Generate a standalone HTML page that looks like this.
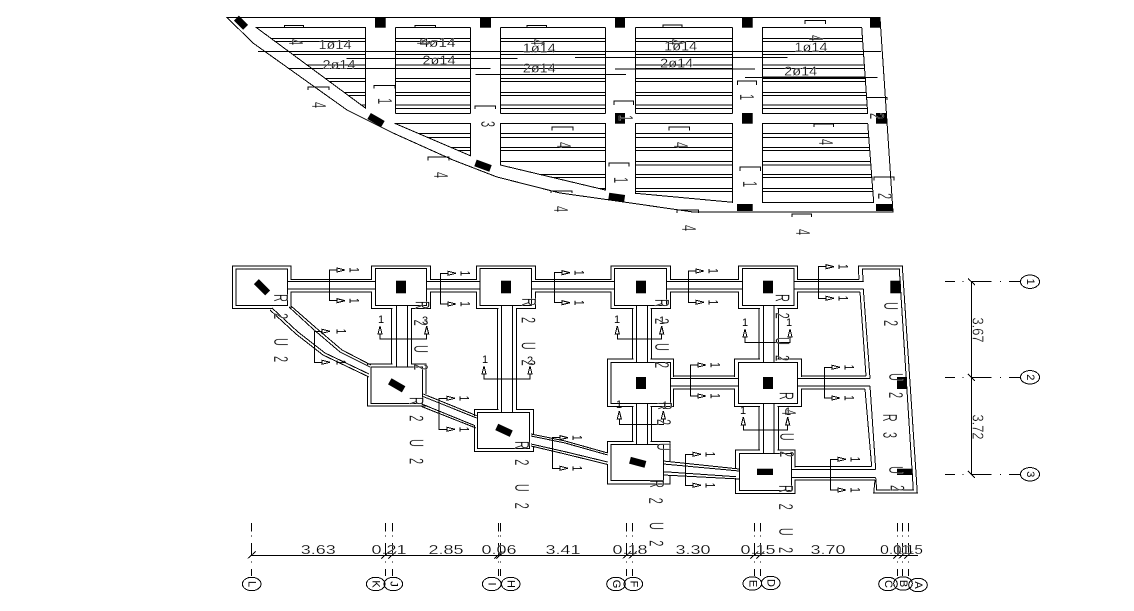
<!DOCTYPE html>
<html lang="en">
<head>
<meta charset="utf-8">
<title>Foundation and slab plan</title>
<style>
html,body{margin:0;padding:0;background:#fff;width:1134px;height:611px;overflow:hidden}
svg{display:block}
.l{fill:none;stroke:#000;stroke-width:1;shape-rendering:crispEdges}
.s{vector-effect:non-scaling-stroke}
.b{fill:#000;stroke:none}
.w{fill:#fff;stroke:#000;stroke-width:1;shape-rendering:crispEdges}
.m{fill:#fff;stroke:none;shape-rendering:crispEdges}
text{font-family:"Liberation Sans",sans-serif;fill:#000;text-anchor:middle;dominant-baseline:central}
.big{font-size:20px;stroke:#fff;stroke-width:.35px}
.sm{font-size:14px}
.n{font-size:11px}
.d{font-size:12.5px;stroke:#fff;stroke-width:.2px}
.dv{font-size:16px;stroke:#fff;stroke-width:.3px}
</style>
</head>
<body>
<svg width="1134" height="611" viewBox="0 0 1134 611" xmlns="http://www.w3.org/2000/svg">
<defs>
<path id="r1" class="l s" d="M0 38.3H1M0 41.7H1M0 54.3H1M0 65H1M0 68.3H1M0 78.3H1M0 81.7H1M0 92.3H1M0 95.7H1M0 105H1M0 108.3H1M0 113.3H1M0 27.3H1M0 27.3V113.3M1 27.3V113.3"/>
</defs>

<!-- TOP SLAB -->
<path class="l" d="M227 17.5H880L893 212H693L610 200L560 193L497 177L453 160L393 133L347 110L253 43Z"/>
<path class="l" d="M256 27.3H365.7V108.3ZM271 38.3H365.7M275.6 41.7H365.7M292.7 54.3H365.7M307 65H365.7M311.7 68.3H365.7M325 78.3H365.7M330 81.7H365.7M344 92.3H365.7M349 95.7H365.7M361.5 105H365.7"/>
<use href="#r1" transform="translate(395.7 0) scale(74.6 1)"/>
<use href="#r1" transform="translate(500.3 0) scale(105 1)"/>
<use href="#r1" transform="translate(635.7 0) scale(97 1)"/>
<path class="l" d="M762.7 27.3H861.7L867.7 113.3H762.7ZM762.7 38.3H862.5M762.7 41.7H862.7M762.7 54.3H863.6M762.7 65H864.3M762.7 68.3H864.6M762.7 78.3H865.3M762.7 81.7H865.5M762.7 92.3H866.2M762.7 95.7H866.5M762.7 105H867.1M762.7 108.3H867.4"/>
<path class="l" d="M394.7 123.3H470.3V155.7ZM418 133.3H470.3M427 137.3H470.3M451 147.3H470.3M458.6 150.7H470.3"/>
<path class="l" d="M500.3 123.3H605.3V190L500.3 165ZM500.3 133.3H605.3M500.3 137.3H605.3M500.3 147.3H605.3M500.3 150.7H605.3M500.3 161.7H605.3M539 174.3H605.3M553.6 177.7H605.3M598 188.3H605.3"/>
<path class="l" d="M635.7 123.3H732.7V202.3L635.7 193.3ZM635.7 133.3H732.7M635.7 137.3H732.7M635.7 147.3H732.7M635.7 150.7H732.7M635.7 161.7H732.7M635.7 165H732.7M635.7 174.3H732.7M635.7 177.7H732.7M635.7 188.3H732.7M635.7 191.7H732.7"/>
<path class="l" d="M762.7 123.3H867.7L873.7 202.3H762.7ZM762.7 133.3H868.5M762.7 137.3H868.8M762.7 147.3H869.5M762.7 150.7H869.8M762.7 161.7H870.6M762.7 165H870.9M762.7 174.3H871.5M762.7 177.7H871.8M762.7 188.3H872.6M762.7 191.7H872.9"/>
<!-- long bars -->
<path class="l" d="M258 51.3H881M346.7 58.3H517.7M575 57.3H787.7M288 68.3H389M372 68.3H490.7M475.7 74.3H626M615 69H755M745 77.7H877.7M635.7 68.8H732.7M762.7 77.2H865"/>
<!-- brackets -->
<path class="l" d="M284.3 27.3V25.3H303.7V27.3M415 27.3V25.3H435.7V27.3M527 27.3V25.3H546.7V27.3M663 27.3V25H682V27.3M805 24V20.3H825.7V24M308 90V87H329V90M374 88.7V85.3H395V88.7M475 109V106H495.7V109M552 130.7V127H573V130.7M428 160.7V157H449V160.7M551 193V191H572V193M614 105V101H633.7V105M737.7 85V81H756.7V85M669 130.7V127H689.7V130.7M814 127V124H833.7V127M609 166.7V163H629V166.7M740 171V167H760.7V171M874 180.7V177H894V180.7M677 213V210H698.7V213M792 217V214H811.7V217M867 97.5H887V100"/>
<!-- slab black columns -->
<g class="b">
<rect x="375" y="17.3" width="10.7" height="10.4"/><rect x="480" y="17.3" width="11" height="10.4"/><rect x="615" y="17.3" width="10" height="10.4"/><rect x="742" y="17.3" width="10.7" height="10.4"/><rect x="870" y="17.3" width="10" height="10.4"/>
<rect x="615" y="113" width="10" height="10.7"/><rect x="742" y="113" width="10.7" height="10.7"/><rect x="876" y="113" width="10.7" height="10.7"/>
<rect x="737" y="204" width="15.7" height="7"/><rect x="876" y="204" width="16.7" height="7"/>
<rect x="-6.5" y="-3.5" width="13" height="7" transform="translate(241 22.7) rotate(45)"/>
<rect x="-8" y="-3.5" width="16" height="7" transform="translate(376 120) rotate(30)"/>
<rect x="-8" y="-3.5" width="16" height="7" transform="translate(483 165.7) rotate(20)"/>
<rect x="-8" y="-3.5" width="16" height="7" transform="translate(616.7 197.3) rotate(8)"/>
</g>
<!-- slab text -->
<g class="d">
<text x="335" y="45" textLength="33" lengthAdjust="spacingAndGlyphs">1ø14</text>
<text x="339" y="65" textLength="33" lengthAdjust="spacingAndGlyphs">2ø14</text>
<text x="438" y="43" textLength="35" lengthAdjust="spacingAndGlyphs">4ø14</text>
<text x="439" y="60.7" textLength="33" lengthAdjust="spacingAndGlyphs">2ø14</text>
<text x="539.3" y="48.3" textLength="33" lengthAdjust="spacingAndGlyphs">1ø14</text>
<text x="539.3" y="68.3" textLength="33" lengthAdjust="spacingAndGlyphs">2ø14</text>
<text x="680.7" y="46.7" textLength="33" lengthAdjust="spacingAndGlyphs">1ø14</text>
<text x="676.7" y="63.3" textLength="33" lengthAdjust="spacingAndGlyphs">2ø14</text>
<text x="811" y="47.7" textLength="33" lengthAdjust="spacingAndGlyphs">1ø14</text>
<text x="800.7" y="71.3" textLength="33" lengthAdjust="spacingAndGlyphs">2ø14</text>
</g>
<g class="big">
<text transform="translate(295 42) rotate(90) scale(.55 1)">4</text>
<text transform="translate(318 105) rotate(90) scale(.55 1)">4</text>
<text transform="translate(384 101) rotate(90) scale(.55 1)">1</text>
<text transform="translate(487 124) rotate(90) scale(.55 1)">3</text>
<text transform="translate(423 42) rotate(90) scale(.55 1)">4</text>
<text transform="translate(537 42) rotate(90) scale(.55 1)">4</text>
<text transform="translate(675 42) rotate(90) scale(.55 1)">4</text>
<text transform="translate(815 38) rotate(90) scale(.55 1)">4</text>
<text transform="translate(440 175) rotate(90) scale(.55 1)">4</text>
<text transform="translate(563 145) rotate(90) scale(.55 1)">4</text>
<text transform="translate(560 209) rotate(90) scale(.55 1)">4</text>
<text transform="translate(680 145) rotate(90) scale(.55 1)">4</text>
<text transform="translate(825 142) rotate(90) scale(.55 1)">4</text>
<text transform="translate(688 228) rotate(90) scale(.55 1)">4</text>
<text transform="translate(802 232) rotate(90) scale(.55 1)">4</text>
<text transform="translate(625 118) rotate(90) scale(.55 1)">1</text>
<text transform="translate(746 97) rotate(90) scale(.55 1)">1</text>
<text transform="translate(620 180) rotate(90) scale(.55 1)">1</text>
<text transform="translate(749 184) rotate(90) scale(.55 1)">1</text>
<text transform="translate(876 116) rotate(90) scale(.55 1)">2</text>
<text transform="translate(884 196) rotate(90) scale(.55 1)">2</text>
</g>

<!-- FOUNDATION PLAN: outer footing outlines -->
<g class="l">
<rect x="232.3" y="266" width="58.7" height="42.3"/>
<rect x="371.7" y="266" width="58.6" height="42.3"/>
<rect x="476.7" y="266" width="58.6" height="42.3"/>
<rect x="611" y="266" width="59.3" height="42.3"/>
<rect x="738.3" y="266" width="59.4" height="42.3"/>
<rect x="367.7" y="364" width="58.3" height="42"/>
<rect x="474.3" y="409.3" width="59" height="42.4"/>
<rect x="607.7" y="359" width="66" height="47.7"/>
<rect x="734.7" y="359" width="67" height="47.7"/>
<rect x="607.7" y="441.7" width="62.3" height="42.3"/>
<rect x="735.7" y="450" width="59.3" height="43.3"/>
</g>
<!-- openings in the outer outlines where beams enter -->
<g class="m">
<rect x="290" y="280" width="2" height="11.3"/><rect x="370.7" y="280" width="2" height="11.3"/><rect x="429.3" y="280" width="2" height="11.3"/><rect x="475.7" y="280" width="2" height="11.3"/><rect x="534.3" y="280" width="2" height="11.3"/><rect x="610" y="280" width="2" height="11.3"/><rect x="669.3" y="280" width="2" height="11.3"/><rect x="737.3" y="280" width="2" height="11.3"/><rect x="796.7" y="280" width="2" height="11.3"/>
<rect x="672.7" y="377" width="2" height="11.3"/><rect x="733.7" y="377" width="2" height="11.3"/><rect x="800.7" y="377" width="2" height="11.3"/>
<rect x="794" y="467.5" width="2" height="12"/>
<rect x="392.5" y="307.3" width="18.5" height="2"/><rect x="392.5" y="363" width="18.5" height="2"/>
<rect x="498.5" y="307.3" width="17.5" height="2"/><rect x="498.5" y="408.3" width="17.5" height="2"/>
<rect x="633.5" y="307.3" width="17" height="2"/><rect x="633.5" y="358" width="17" height="2"/><rect x="633.5" y="405.7" width="17" height="2"/><rect x="633.5" y="440.7" width="17" height="2"/>
<rect x="760" y="307.3" width="17.5" height="2"/><rect x="760" y="358" width="17.5" height="2"/><rect x="760" y="405.7" width="17.5" height="2"/><rect x="760" y="449" width="17.5" height="2"/>
<rect x="272" y="307.3" width="18" height="2"/>
<rect x="366.7" y="365" width="2" height="11"/>
<rect x="425" y="394" width="2" height="11"/><rect x="473.3" y="416" width="2" height="10"/>
<rect x="532.3" y="435" width="2" height="11"/><rect x="606.7" y="453" width="2" height="11"/>
<rect x="669" y="462" width="2" height="13"/><rect x="734.7" y="469" width="2" height="9"/>
</g>
<!-- beams -->
<path class="l" d="M291 279.3H371.7M287.7 281.7H375.7M287.7 289H375.7M291 292H371.7
M430 279.3H476.7M426.7 281.7H480M426.7 289H480M430 292H476.7
M535 279.3H611M531.7 281.7H614.3M531.7 289H614.3M535 292H611
M670 279.3H738.3M666.7 281.7H742.3M666.7 289H742.3M670 292H738.3
M797.7 279.3H859M794 281.7H863.3M794 289H863.3M797.7 292H860
M673.7 376H734.7M670.3 378.3H738.7M670.3 386H738.7M673.7 389H734.7
M801.7 376H866M797.7 378.3H870M797.7 386H870M801.7 389H865
M795 466.7H871.7M791.7 469.3H875.7M791.7 477.7H875.7M795 480H875
M391.7 308V364M396.3 305.7V367M407.3 305.7V367M411.7 308V364
M497.7 308V409.3M501.7 305.7V412.3M512.3 305.7V412.3M516.7 308V409.3
M632.7 308V359M636.7 305.7V362.3M647.3 305.7V362.3M651.3 308V359
M632.7 406.7V441.7M636.7 403.7V444.3M647.3 403.7V444.3M651.3 406.7V441.7
M759 308V359M763.3 305.7V362.3M774 305.7V362.3M778.3 308V359
M759 406.7V450M763.3 403.7V453.3M774 403.7V453.3M778.3 406.7V450"/>
<!-- curved beams -->
<path class="l" d="M291 306L315 327L342 350L371 365M289 307L313 329L340 352L370 367
M272 308L298 332L325 353L369 374M270 310L296 334L323 355L369 377
M423.3 394L476.7 415.7M423 396.5L476.7 418M421.7 404L475 425.7M421.5 406.5L476 428
M531 434L565 441L607.7 453M531 436L565 443L607.7 455M531 444L565 451.7L607.7 462M531 446L565 454L607.7 464.5
M663.3 461L739.3 469M663.3 464L739.3 471M663.3 471.7L736 476.7M663.3 475L739 479"/>
<!-- inner footing outlines and wall -->
<g class="l">
<rect x="236" y="269" width="51.7" height="36.7"/>
<rect x="375.7" y="268.3" width="51" height="37.4"/>
<rect x="480" y="268.3" width="51.7" height="37.4"/>
<rect x="614.3" y="268.3" width="52.4" height="37.4"/>
<rect x="742.3" y="268.3" width="51.7" height="37.4"/>
<rect x="371" y="367" width="51.3" height="36.3"/>
<rect x="477.3" y="412.3" width="52.4" height="36"/>
<rect x="611" y="362.3" width="59.3" height="41.4"/>
<rect x="738.7" y="362.3" width="59" height="41.4"/>
<rect x="611" y="444.3" width="52.3" height="36.4"/>
<rect x="739.3" y="453.3" width="52.4" height="37"/>
<path d="M859 279.3L858.3 266H902.3L917.3 493H873.7L875 480M860 292L866 376M865 389L871.7 466.7"/>
<path d="M863.3 281.7L862.3 269H899.3L913.3 490H876.7L875.7 477.7M863.3 289L870 378.3M870 386L875.7 469.3"/>
</g>
<!-- footing columns -->
<g class="b">
<rect x="396" y="280.7" width="10" height="12.6"/><rect x="501" y="280.7" width="10" height="12.6"/><rect x="636" y="280.7" width="10" height="12.6"/><rect x="763" y="280.7" width="10" height="12.6"/><rect x="890.3" y="280.7" width="10.4" height="12.6"/>
<rect x="636" y="377" width="10" height="12"/><rect x="763" y="377" width="10" height="12"/><rect x="897" y="377" width="10" height="12"/>
<rect x="757" y="468.7" width="16" height="6.3"/><rect x="897" y="468.7" width="15.7" height="6.3"/>
<rect x="-8" y="-3.5" width="16" height="7" transform="translate(262 287.3) rotate(45)"/>
<rect x="-8" y="-3.5" width="16" height="7" transform="translate(396.7 385.3) rotate(30)"/>
<rect x="-8" y="-3.5" width="16" height="7" transform="translate(504 430.3) rotate(25)"/>
<rect x="-8" y="-3.5" width="16" height="7" transform="translate(637.7 462.3) rotate(15)"/>
</g>

<!-- horizontal section markers -->
<path class="l" d="M337 270H329.3V300.7H337M448 273.3H440.7V304H448M562 272.7H554.3V302.7H562M696 271H688.3V302.3H696M826 266.7H818.3V298.3H826M698 365H690.3V396H698M832 367.3H824.3V398H832M838 459.3H830.7V490H838M693 454.3H685.3V485.3H693M322 331.3H314.3V362.3H322M447 398.3H439V429.3H447M560 437.7H552.7V468.3H560"/>
<path class="w" d="M337 268L345 270L337 272ZM337 298.7L345 300.7L337 302.7ZM448 271.3L456 273.3L448 275.3ZM448 302L456 304L448 306ZM562 270.7L570 272.7L562 274.7ZM562 300.7L570 302.7L562 304.7ZM696 269L704 271L696 273ZM696 300.3L704 302.3L696 304.3ZM826 264.7L834 266.7L826 268.7ZM826 296.3L834 298.3L826 300.3ZM698 363L706 365L698 367ZM698 394L706 396L698 398ZM832 365.3L840 367.3L832 369.3ZM832 396L840 398L832 400ZM838 457.3L846 459.3L838 461.3ZM838 488L846 490L838 492ZM693 452.3L701 454.3L693 456.3ZM693 483.3L701 485.3L693 487.3ZM322 329.3L330 331.3L322 333.3ZM322 360.3L330 362.3L322 364.3ZM447 396.3L455 398.3L447 400.3ZM447 427.3L455 429.3L447 431.3ZM560 435.7L568 437.7L560 439.7ZM560 466.3L568 468.3L560 470.3Z"/>
<g class="sm">
<text transform="translate(354 270) rotate(90) scale(.7 1)">1</text><text transform="translate(354 300.7) rotate(90) scale(.7 1)">1</text>
<text transform="translate(465 273.3) rotate(90) scale(.7 1)">1</text><text transform="translate(465 304) rotate(90) scale(.7 1)">1</text>
<text transform="translate(579 272.7) rotate(90) scale(.7 1)">1</text><text transform="translate(579 302.7) rotate(90) scale(.7 1)">1</text>
<text transform="translate(713 271) rotate(90) scale(.7 1)">1</text><text transform="translate(713 302.3) rotate(90) scale(.7 1)">1</text>
<text transform="translate(843 266.7) rotate(90) scale(.7 1)">1</text><text transform="translate(843 298.3) rotate(90) scale(.7 1)">1</text>
<text transform="translate(715 365) rotate(90) scale(.7 1)">1</text><text transform="translate(715 396) rotate(90) scale(.7 1)">1</text>
<text transform="translate(849 367.3) rotate(90) scale(.7 1)">1</text><text transform="translate(849 398) rotate(90) scale(.7 1)">1</text>
<text transform="translate(855 459.3) rotate(90) scale(.7 1)">1</text><text transform="translate(855 490) rotate(90) scale(.7 1)">1</text>
<text transform="translate(710 454.3) rotate(90) scale(.7 1)">1</text><text transform="translate(710 485.3) rotate(90) scale(.7 1)">1</text>
<text transform="translate(341 331.3) rotate(90) scale(.7 1)">1</text><text transform="translate(341 362.3) rotate(90) scale(.7 1)">1</text>
<text transform="translate(464 398.3) rotate(90) scale(.7 1)">1</text><text transform="translate(464 429.3) rotate(90) scale(.7 1)">1</text>
<text transform="translate(577 437.7) rotate(90) scale(.7 1)">1</text><text transform="translate(577 468.3) rotate(90) scale(.7 1)">1</text>
</g>

<!-- vertical section markers -->
<path class="l" d="M380 334V339H426.7V334M484 374V379H530V374M617.3 334V339H661.7V334M745 337V342.3H790V337M619.3 419V424.3H663.3V419M743.3 425V430H787.7V425"/>
<path class="w" d="M378 334L380 326L382 334ZM424.7 334L426.7 326L428.7 334ZM482 374L484 366L486 374ZM528 374L530 366L532 374ZM615.3 334L617.3 326L619.3 334ZM659.7 334L661.7 326L663.7 334ZM743 337L745 329L747 337ZM788 337L790 329L792 337ZM617.3 419L619.3 411L621.3 419ZM661.3 419L663.3 411L665.3 419ZM741.3 425L743.3 417L745.3 425ZM785.7 425L787.7 417L789.7 425Z"/>
<g class="n">
<text x="381" y="320">1</text><text x="425" y="321">3</text>
<text x="485" y="360">1</text><text x="530" y="361">2</text>
<text x="617" y="320">1</text><text x="662" y="321">1</text>
<text x="745" y="323">1</text><text x="789" y="323">1</text>
<text x="619" y="405">1</text><text x="665" y="406">1</text>
<text x="743" y="411">1</text><text x="788" y="412">1</text>
</g>

<!-- R 2 U 2 labels -->
<g class="big">
<text transform="translate(280 298) rotate(90) scale(.55 1)">R</text><text transform="translate(280 316) rotate(90) scale(.55 1)">2</text><text transform="translate(280 342) rotate(90) scale(.55 1)">U</text><text transform="translate(280 359) rotate(90) scale(.55 1)">2</text>
<text transform="translate(421.7 305) rotate(90) scale(.55 1)">R</text><text transform="translate(420 322.7) rotate(90) scale(.55 1)">2</text><text transform="translate(420 349) rotate(90) scale(.55 1)">U</text><text transform="translate(420 367) rotate(90) scale(.55 1)">2</text>
<text transform="translate(528 302) rotate(90) scale(.55 1)">R</text><text transform="translate(527.7 320) rotate(90) scale(.55 1)">2</text><text transform="translate(527.7 345.7) rotate(90) scale(.55 1)">U</text><text transform="translate(527.7 362.7) rotate(90) scale(.55 1)">2</text>
<text transform="translate(415.7 401) rotate(90) scale(.55 1)">R</text><text transform="translate(415.7 418.3) rotate(90) scale(.55 1)">2</text><text transform="translate(415.7 443) rotate(90) scale(.55 1)">U</text><text transform="translate(415.7 461) rotate(90) scale(.55 1)">2</text>
<text transform="translate(521 445) rotate(90) scale(.55 1)">R</text><text transform="translate(521 462.3) rotate(90) scale(.55 1)">2</text><text transform="translate(521 487.7) rotate(90) scale(.55 1)">U</text><text transform="translate(521 505.7) rotate(90) scale(.55 1)">2</text>
<text transform="translate(661 303) rotate(90) scale(.55 1)">R</text><text transform="translate(661 321) rotate(90) scale(.55 1)">2</text><text transform="translate(661 347) rotate(90) scale(.55 1)">U</text><text transform="translate(661 365) rotate(90) scale(.55 1)">2</text>
<text transform="translate(781.7 298) rotate(90) scale(.55 1)">R</text><text transform="translate(781.7 315.7) rotate(90) scale(.55 1)">2</text><text transform="translate(781.7 341) rotate(90) scale(.55 1)">U</text><text transform="translate(781.7 358) rotate(90) scale(.55 1)">2</text>
<text transform="translate(785.7 396) rotate(90) scale(.55 1)">R</text><text transform="translate(788 412) rotate(90) scale(.55 1)">4</text><text transform="translate(786 436.7) rotate(90) scale(.55 1)">U</text><text transform="translate(786 454) rotate(90) scale(.55 1)">2</text>
<text transform="translate(664 406) rotate(90) scale(.55 1)">R</text><text transform="translate(663 422) rotate(90) scale(.55 1)">2</text><text transform="translate(663 446.7) rotate(90) scale(.55 1)">U</text>
<text transform="translate(656 484) rotate(90) scale(.55 1)">R</text><text transform="translate(655 500.7) rotate(90) scale(.55 1)">2</text><text transform="translate(655.7 526) rotate(90) scale(.55 1)">U</text><text transform="translate(655.7 543.3) rotate(90) scale(.55 1)">2</text>
<text transform="translate(785 489) rotate(90) scale(.55 1)">R</text><text transform="translate(785 506.7) rotate(90) scale(.55 1)">2</text><text transform="translate(785 531.7) rotate(90) scale(.55 1)">U</text><text transform="translate(785 550) rotate(90) scale(.55 1)">2</text>
<text transform="translate(890 306) rotate(90) scale(.55 1)">U</text><text transform="translate(890 323) rotate(90) scale(.55 1)">2</text>
<text transform="translate(895 377) rotate(90) scale(.55 1)">U</text><text transform="translate(895 395) rotate(90) scale(.55 1)">2</text>
<text transform="translate(889 417.7) rotate(90) scale(.55 1)">R</text><text transform="translate(889 435) rotate(90) scale(.55 1)">3</text>
<text transform="translate(895 470) rotate(90) scale(.55 1)">U</text><text transform="translate(896.7 488) rotate(90) scale(.55 1)">2</text>
</g>

<!-- bottom dimension -->
<path class="l" d="M251.7 555.3H918"/>
<path class="l" d="
M251.7 523V531.7M251.7 535.5V536.5M251.7 543V555M251.7 561.5V562.5M251.7 569V576
M385.3 523V531.7M385.3 535.5V536.5M385.3 543V555M385.3 561.5V562.5M385.3 569V576
M392.3 523V531.7M392.3 535.5V536.5M392.3 543V555M392.3 561.5V562.5M392.3 569V576
M498.3 523V531.7M498.3 535.5V536.5M498.3 543V555M498.3 561.5V562.5M498.3 569V576
M500.3 523V531.7M500.3 535.5V536.5M500.3 543V555M500.3 561.5V562.5M500.3 569V576
M626.7 523V531.7M626.7 535.5V536.5M626.7 543V555M626.7 561.5V562.5M626.7 569V576
M632.7 523V531.7M632.7 535.5V536.5M632.7 543V555M632.7 561.5V562.5M632.7 569V576
M754.3 523V531.7M754.3 535.5V536.5M754.3 543V555M754.3 561.5V562.5M754.3 569V576
M760.3 523V531.7M760.3 535.5V536.5M760.3 543V555M760.3 561.5V562.5M760.3 569V576
M897.3 523V531.7M897.3 535.5V536.5M897.3 543V555M897.3 561.5V562.5M897.3 569V576
M902.7 523V531.7M902.7 535.5V536.5M902.7 543V555M902.7 561.5V562.5M902.7 569V576
M908.3 523V531.7M908.3 535.5V536.5M908.3 543V555M908.3 561.5V562.5M908.3 569V576
M247.7 558.5L255.7 551.5M381.3 558.5L389.3 551.5M388.3 558.5L396.3 551.5M494.3 558.5L502.3 551.5M496.3 558.5L504.3 551.5M622.7 558.5L630.7 551.5M628.7 558.5L636.7 551.5M750.3 558.5L758.3 551.5M756.3 558.5L764.3 551.5M893.3 558.5L901.3 551.5M898.7 558.5L906.7 551.5M904.3 558.5L912.3 551.5"/>
<g class="d">
<text x="318.3" y="550" textLength="35" lengthAdjust="spacingAndGlyphs">3.63</text>
<text x="389" y="550" textLength="35" lengthAdjust="spacingAndGlyphs">0.21</text>
<text x="446" y="550" textLength="35" lengthAdjust="spacingAndGlyphs">2.85</text>
<text x="499" y="550" textLength="35" lengthAdjust="spacingAndGlyphs">0.06</text>
<text x="563" y="550" textLength="35" lengthAdjust="spacingAndGlyphs">3.41</text>
<text x="630" y="550" textLength="35" lengthAdjust="spacingAndGlyphs">0.18</text>
<text x="693" y="550" textLength="35" lengthAdjust="spacingAndGlyphs">3.30</text>
<text x="758" y="550" textLength="35" lengthAdjust="spacingAndGlyphs">0.15</text>
<text x="828" y="550" textLength="35" lengthAdjust="spacingAndGlyphs">3.70</text>
<text x="895" y="550" textLength="30" lengthAdjust="spacingAndGlyphs">0.11</text>
<text x="908" y="550" textLength="30" lengthAdjust="spacingAndGlyphs">0.15</text>
</g>
<g class="w" style="fill:none">
<ellipse cx="251.7" cy="584" rx="9.3" ry="6.7"/><ellipse cx="375.7" cy="584" rx="9.3" ry="6.7"/><ellipse cx="393.3" cy="584" rx="9.3" ry="6.7"/><ellipse cx="491.7" cy="584" rx="9.3" ry="6.7"/><ellipse cx="510.7" cy="584" rx="9.3" ry="6.7"/><ellipse cx="616" cy="584" rx="9.3" ry="6.7"/><ellipse cx="633.3" cy="584" rx="9.3" ry="6.7"/><ellipse cx="752.3" cy="583.5" rx="9.3" ry="6.7"/><ellipse cx="770.7" cy="583" rx="9.3" ry="6.7"/><ellipse cx="888" cy="584" rx="9.3" ry="6.7"/><ellipse cx="903" cy="583.5" rx="9.3" ry="6.7"/><ellipse cx="918" cy="585" rx="9.3" ry="6.7"/>
</g>
<g class="n">
<text transform="translate(251.7 584) rotate(90)">L</text><text transform="translate(375.7 584) rotate(90)">K</text><text transform="translate(393.3 584) rotate(90)">J</text><text transform="translate(491.7 584) rotate(90)">I</text><text transform="translate(510.7 584) rotate(90)">H</text><text transform="translate(616 584) rotate(90)">G</text><text transform="translate(633.3 584) rotate(90)">F</text><text transform="translate(752.3 583.5) rotate(90)">E</text><text transform="translate(770.7 583) rotate(90)">D</text><text transform="translate(888 584) rotate(90)">C</text><text transform="translate(903 583.5) rotate(90)">B</text><text transform="translate(918 585) rotate(90)">A</text>
</g>

<!-- right dimension -->
<path class="l" d="M971.7 281.7V474.3
M945 281.7H955M962.5 281.7H963.5M971.7 281.7H991.7M1000 281.7H1001M1009 281.7H1020
M945 377.3H955M962.5 377.3H963.5M971.7 377.3H991.7M1000 377.3H1001M1009 377.3H1020
M945 474.3H955M962.5 474.3H963.5M971.7 474.3H991.7M1000 474.3H1001M1009 474.3H1020
M968 278.5L975 285M968 374L975 381M968 471L975 478"/>
<g class="w" style="fill:none">
<ellipse cx="1030" cy="281.7" rx="9.5" ry="6.7"/><ellipse cx="1030" cy="377.3" rx="9.5" ry="6.7"/><ellipse cx="1030" cy="474.3" rx="9.5" ry="6.7"/>
</g>
<g class="n">
<text transform="translate(1030 281.7) rotate(90)">1</text><text transform="translate(1030 377.3) rotate(90)">2</text><text transform="translate(1030 474.3) rotate(90)">3</text>
</g>
<g class="dv">
<text transform="translate(977 330) rotate(90)" textLength="25" lengthAdjust="spacingAndGlyphs">3.67</text>
<text transform="translate(977 427) rotate(90)" textLength="25" lengthAdjust="spacingAndGlyphs">3.72</text>
</g>
</svg>
</body>
</html>
